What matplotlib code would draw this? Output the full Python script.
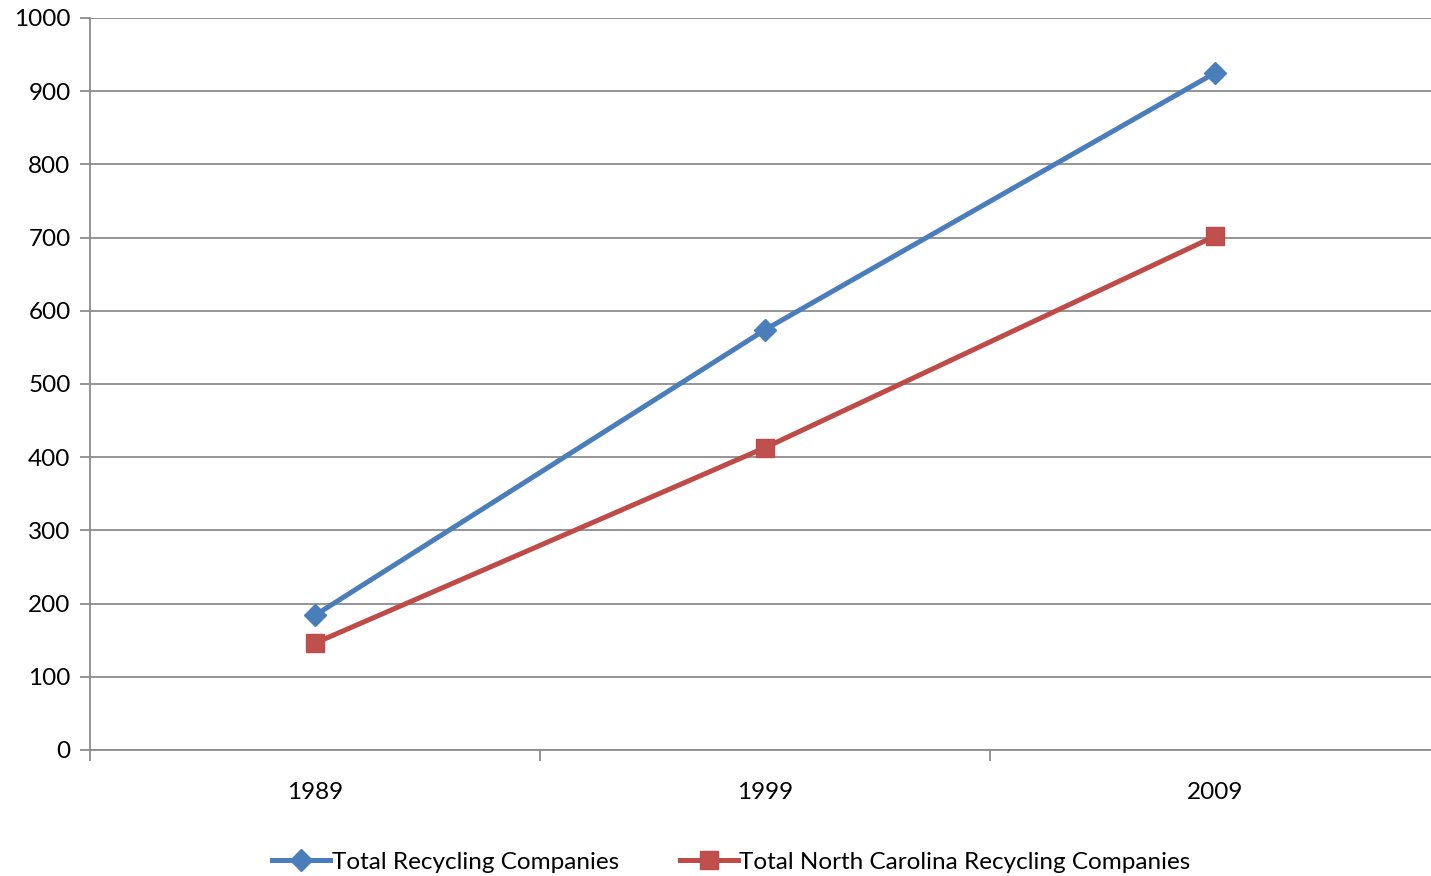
import matplotlib.pyplot as plt

plt.rcParams['font.family'] = ['Lato', 'DejaVu Sans']

years = ['1989', '1999', '2009']
total_recycling = [184, 574, 925]
nc_recycling = [146, 413, 702]

W, H = 1431, 876
fig = plt.figure(figsize=(W / 100, H / 100), dpi=100)
ax = fig.add_axes([90 / W, 1 - 750 / H, (1440 - 90) / W, (750 - 18) / H])

x = list(range(len(years)))
ax.plot(x, total_recycling, color='#4A7EBB', lw=3.6, marker='D', ms=11,
        mfc='#4A7EBB', mec='#4A7EBB', label='Total Recycling Companies', zorder=3)
ax.plot(x, nc_recycling, color='#BE4B48', lw=3.6, marker='s', ms=13.5,
        mfc='#C0504D', mec='#BE4B48', label='Total North Carolina Recycling Companies', zorder=3)

ax.set_xlim(-0.5, len(years) - 0.5)
ax.set_ylim(0, 1000)
ax.set_yticks(range(0, 1001, 100))
ax.yaxis.grid(True, color='#8c8c8c', lw=1.3)
ax.set_axisbelow(True)

ax.set_xticks([i + 0.5 for i in range(-1, len(years))])
ax.set_xticklabels([])
ax.set_xticks(x, minor=True)
ax.set_xticklabels(years, minor=True)
ax.tick_params(axis='x', which='minor', length=0, pad=23, labelsize=17.5)
ax.tick_params(axis='x', which='major', length=8, width=1.3, color='#8c8c8c')
ax.tick_params(axis='y', length=7, width=1.3, color='#8c8c8c', labelsize=17.5, pad=7)

for s in ['top', 'right']:
    ax.spines[s].set_visible(False)
for s in ['left', 'bottom']:
    ax.spines[s].set_color('#8c8c8c')
    ax.spines[s].set_linewidth(1.3)

fig.legend(loc='lower center', bbox_to_anchor=(0.511, -0.021), ncol=2, frameon=False,
           fontsize=17.5, handlelength=2.4, columnspacing=2.5, handletextpad=0.05)

fig.savefig('out.png', dpi=100)
